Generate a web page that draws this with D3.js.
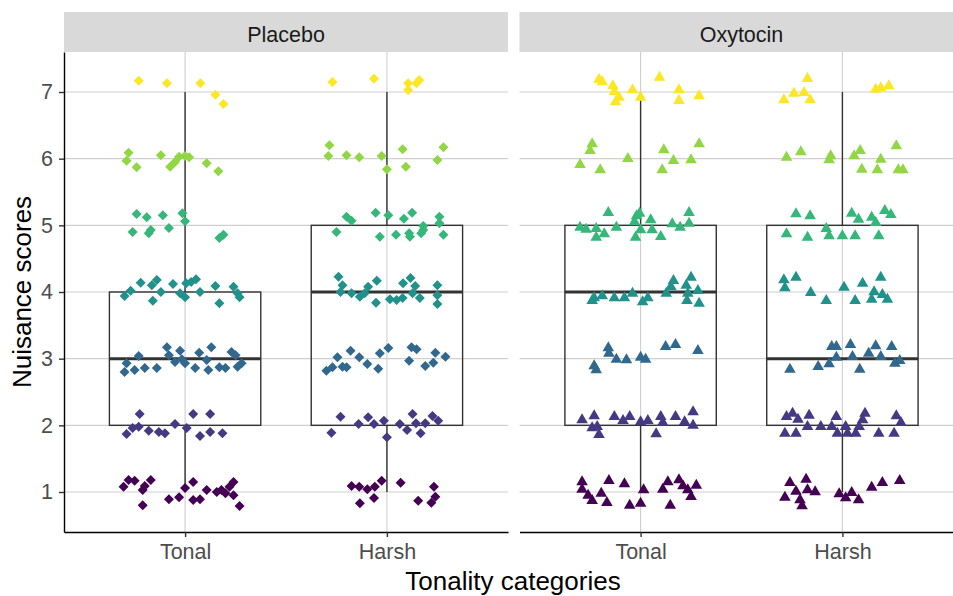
<script src="https://d3js.org/d3.v7.min.js"></script>

<div id="chart"></div>

<style>
    body { margin: 0; background: #fff; }
    text { font-family: "Liberation Sans", Arial, sans-serif; }
</style>

<script>
    const width = 953;
    const height = 596;

    const panels = ["Placebo", "Oxytocin"];
    const categories = ["Tonal", "Harsh"];
    const yTicks = [1, 2, 3, 4, 5, 6, 7];

    // box stats per panel / category: [lower whisker, q1, median, q3, upper whisker]
    const boxPlaceboTonal = [1, 2, 3, 4, 7];
    const boxPlaceboHarsh = [1, 2, 4, 5, 7];
    const boxOxytocinTonal = [1, 2, 4, 5, 7];
    const boxOxytocinHarsh = [1, 2, 3, 5, 7];

    // jittered points: [x offset (category units), score]
    const placeboTonal = [
        [-0.23, 7.17], [-0.09, 7.13], [0.076, 7.13], [0.15, 6.96], [0.19, 6.82],
        [-0.28, 6.09], [-0.29, 5.97], [-0.24, 5.87], [-0.12, 6.05], [-0.074, 5.88], [-0.05, 5.95],
        [-0.03, 6.03], [0.0, 6.04], [0.02, 6.02], [0.107, 5.93], [0.165, 5.81],
        [-0.24, 5.17], [-0.19, 5.12], [-0.11, 5.15], [-0.013, 5.18], [0.0, 5.06], [-0.26, 4.9],
        [-0.18, 4.88], [-0.17, 4.93], [-0.08, 4.96], [0.17, 4.81], [0.19, 4.86],
        [-0.3, 3.94], [-0.27, 4.02], [-0.22, 4.14], [-0.165, 4.1], [-0.14, 4.18], [-0.12, 4.0],
        [-0.16, 3.87], [-0.06, 4.12], [-0.025, 3.98], [0.0, 3.92], [0.005, 4.13], [0.03, 4.15],
        [0.054, 4.19], [0.074, 4.0], [0.15, 4.09], [0.17, 3.83], [0.24, 4.08], [0.26, 3.98], [0.27, 3.92],
        [-0.23, 3.04], [-0.29, 2.93], [-0.3, 2.8], [-0.25, 2.83], [-0.2, 2.86], [-0.14, 2.86],
        [-0.09, 3.17], [-0.08, 3.05], [-0.05, 2.95], [-0.025, 3.12], [-0.016, 2.99], [0.0, 2.93],
        [0.05, 2.86], [0.07, 3.09], [0.107, 2.98], [0.13, 3.17], [0.115, 2.83], [0.17, 2.87],
        [0.2, 2.86], [0.23, 3.1], [0.25, 3.05], [0.26, 2.88], [0.28, 2.93],
        [-0.225, 2.17], [-0.29, 1.87], [-0.26, 1.96], [-0.23, 1.98], [-0.18, 1.92], [-0.13, 1.9],
        [-0.1, 1.88], [-0.05, 2.02], [0.008, 1.96], [0.04, 2.17], [0.124, 2.17], [0.074, 1.84],
        [0.124, 1.9], [0.185, 1.88],
        [-0.305, 1.08], [-0.28, 1.18], [-0.25, 1.17], [-0.21, 1.03], [-0.2, 1.09], [-0.17, 1.18],
        [-0.21, 0.8], [-0.08, 0.89], [-0.03, 0.92], [0.0, 1.06], [0.04, 1.15], [0.04, 0.88],
        [0.074, 0.89], [0.107, 1.03], [0.157, 1.0], [0.18, 1.03], [0.2, 0.98], [0.22, 1.08],
        [0.24, 1.15], [0.24, 0.95], [0.27, 0.79]
    ];

    const placeboHarsh = [
        [-0.27, 7.15], [-0.064, 7.2], [0.105, 7.13], [0.105, 7.03], [0.147, 7.13], [0.16, 7.18],
        [-0.285, 6.2], [-0.29, 6.04], [-0.2, 6.05], [-0.137, 6.02], [-0.026, 6.04], [0.0, 5.84],
        [0.078, 6.14], [0.094, 5.88], [0.25, 5.98], [0.28, 6.17],
        [-0.2, 5.13], [-0.175, 5.07], [-0.25, 4.9], [-0.056, 5.19], [0.007, 5.15], [0.084, 5.1],
        [0.125, 5.19], [-0.035, 4.83], [0.045, 4.86], [0.11, 4.88], [0.114, 4.83], [0.17, 4.88],
        [0.18, 4.99], [0.26, 5.13], [0.26, 5.03], [0.28, 4.86], [0.18, 4.93],
        [-0.24, 4.23], [-0.22, 4.1], [-0.23, 4.0], [-0.175, 3.98], [-0.134, 3.93], [-0.11, 3.98],
        [-0.093, 4.08], [-0.05, 4.17], [-0.054, 3.84], [0.015, 3.89], [0.048, 3.88], [0.078, 3.91],
        [0.08, 4.13], [0.117, 4.21], [0.14, 4.09], [0.127, 3.98], [0.163, 3.91], [0.25, 4.1],
        [0.25, 3.95], [0.25, 3.82],
        [-0.3, 2.82], [-0.27, 2.87], [-0.245, 3.02], [-0.22, 2.88], [-0.2, 2.87], [-0.18, 3.12],
        [-0.137, 3.02], [-0.097, 2.92], [-0.043, 2.85], [-0.035, 3.08], [0.007, 3.16], [0.11, 2.97],
        [0.122, 3.17], [0.147, 3.14], [0.19, 2.89], [0.23, 2.94], [0.24, 3.09], [0.29, 3.03],
        [-0.23, 2.13], [-0.275, 1.89], [-0.14, 2.02], [-0.093, 2.12], [-0.064, 2.02], [-0.015, 2.07],
        [0.0, 1.82], [0.064, 2.02], [0.1, 1.93], [0.127, 2.17], [0.144, 2.03], [0.167, 1.88],
        [0.19, 2.03], [0.226, 2.14], [0.254, 2.07],
        [-0.175, 1.09], [-0.137, 1.08], [-0.097, 1.04], [-0.06, 1.08], [-0.026, 1.17], [-0.134, 0.83],
        [-0.064, 0.91], [0.068, 1.14], [0.155, 0.87], [0.22, 0.84], [0.24, 0.93], [0.233, 1.08]
    ];

    const oxytocinTonal = [
        [-0.206, 7.19], [-0.19, 7.15], [-0.137, 7.09], [-0.13, 7.0], [-0.107, 6.92], [-0.124, 6.85],
        [-0.04, 7.03], [0.0, 6.92], [0.094, 7.22], [0.19, 7.03], [0.19, 6.87], [0.29, 6.94],
        [-0.24, 6.22], [-0.25, 6.12], [-0.3, 5.91], [-0.2, 5.83], [-0.063, 6.0], [0.115, 6.13],
        [0.163, 5.97], [0.107, 5.83], [0.25, 5.98], [0.29, 6.22],
        [-0.16, 5.19], [-0.3, 4.97], [-0.27, 4.94], [-0.22, 4.95], [-0.22, 4.82], [-0.18, 4.87],
        [-0.12, 4.97], [-0.02, 5.14], [-0.005, 5.18], [-0.03, 5.05], [0.0, 4.93], [-0.025, 4.82],
        [0.05, 5.08], [0.057, 4.93], [0.1, 4.83], [0.157, 5.02], [0.196, 4.97], [0.24, 5.03], [0.24, 5.19],
        [-0.24, 3.87], [-0.23, 3.91], [-0.19, 3.94], [-0.13, 3.91], [-0.08, 3.91], [-0.04, 3.98],
        [0.01, 3.85], [0.036, 3.91], [0.127, 3.98], [0.15, 4.08], [0.163, 4.17], [0.226, 4.1],
        [0.25, 4.22], [0.234, 3.98], [0.23, 3.87], [0.284, 4.02], [0.29, 3.83],
        [-0.23, 2.89], [-0.22, 2.83], [-0.16, 3.16], [-0.157, 3.08], [-0.12, 2.99], [-0.07, 2.98],
        [0.0, 3.02], [0.025, 2.99], [0.124, 3.18], [0.173, 3.21], [0.284, 3.12],
        [-0.29, 2.08], [-0.23, 2.14], [-0.24, 1.96], [-0.215, 1.98], [-0.206, 1.86], [-0.13, 2.13],
        [-0.087, 2.07], [-0.054, 2.13], [0.0, 2.05], [0.036, 2.07], [0.077, 1.87], [0.1, 2.13],
        [0.11, 2.04], [0.173, 2.13], [0.218, 2.05], [0.26, 2.2], [0.26, 2.0],
        [-0.29, 1.15], [-0.29, 1.04], [-0.26, 0.95], [-0.24, 0.87], [-0.195, 0.98], [-0.167, 0.84],
        [-0.157, 1.17], [-0.08, 1.12], [-0.054, 0.8], [0.0, 0.83], [0.015, 1.03], [0.11, 1.04],
        [0.135, 1.15], [0.147, 0.8], [0.19, 1.18], [0.21, 1.09], [0.234, 1.03], [0.25, 0.93], [0.276, 1.1]
    ];

    const oxytocinHarsh = [
        [-0.173, 7.2], [-0.24, 6.98], [-0.19, 6.99], [-0.29, 6.88], [-0.16, 6.88], [0.165, 7.04],
        [0.19, 7.06], [0.23, 7.09],
        [-0.277, 6.02], [-0.206, 6.1], [-0.058, 6.04], [-0.066, 5.98], [0.058, 6.04], [0.088, 6.12],
        [0.19, 5.99], [0.173, 5.83], [0.096, 5.84], [0.267, 6.19], [0.277, 5.83], [0.3, 5.83],
        [-0.23, 5.17], [-0.16, 5.14], [-0.277, 4.87], [-0.173, 4.82], [-0.08, 4.95], [-0.066, 4.84],
        [0.0, 4.84], [0.063, 4.84], [0.046, 5.18], [0.08, 5.09], [0.145, 5.12], [0.165, 5.04],
        [0.18, 4.84], [0.21, 5.22], [0.24, 5.16],
        [-0.29, 4.18], [-0.285, 4.06], [-0.23, 4.22], [-0.157, 3.99], [-0.08, 3.87], [0.008, 4.07],
        [0.063, 3.87], [0.1, 4.13], [0.157, 4.0], [0.145, 3.89], [0.19, 4.22], [0.198, 3.96], [0.223, 3.89],
        [-0.053, 3.18], [-0.03, 3.18], [-0.03, 3.02], [-0.066, 2.92], [-0.12, 2.88], [-0.26, 2.84],
        [0.04, 3.21], [0.05, 3.03], [0.086, 2.84], [0.13, 3.08], [0.165, 3.19], [0.19, 3.03],
        [0.244, 3.18], [0.26, 2.93], [0.284, 2.97],
        [-0.277, 2.13], [-0.247, 2.18], [-0.22, 2.09], [-0.165, 2.15], [-0.173, 1.98], [-0.285, 1.88],
        [-0.23, 1.88], [-0.107, 1.98], [-0.053, 1.98], [-0.03, 2.13], [-0.025, 1.88], [0.016, 1.98],
        [0.025, 1.88], [0.066, 1.88], [0.083, 1.98], [0.112, 2.18], [0.1, 2.08], [0.18, 1.88],
        [0.256, 1.88], [0.267, 2.14], [0.29, 2.04],
        [-0.26, 1.14], [-0.285, 0.92], [-0.23, 1.01], [-0.18, 1.19], [-0.173, 1.03], [-0.135, 1.0],
        [-0.21, 0.88], [-0.2, 0.79], [-0.016, 0.97], [0.016, 0.91], [0.046, 0.99], [0.08, 0.88],
        [0.145, 1.07], [0.198, 1.14], [0.284, 1.17]
    ];

    const groups = [
        {panel: 0, cat: 1, box: boxPlaceboTonal, points: placeboTonal},
        {panel: 0, cat: 2, box: boxPlaceboHarsh, points: placeboHarsh},
        {panel: 1, cat: 1, box: boxOxytocinTonal, points: oxytocinTonal},
        {panel: 1, cat: 2, box: boxOxytocinHarsh, points: oxytocinHarsh}
    ];

    const panelLefts = [64, 519.5];
    const panelWidth = 444;
    const panelTop = 52;
    const panelBottom = 532;
    const stripTop = 12;

    const y = d3.scaleLinear().domain([0.4, 7.6]).range([panelBottom, panelTop]);
    const color = d3.scaleSequential(d3.interpolateViridis).domain([1, 7]);

    const diamond = {
        draw(context, size) {
            const r = Math.sqrt(size / 2);
            context.moveTo(0, -r);
            context.lineTo(r, 0);
            context.lineTo(0, r);
            context.lineTo(-r, 0);
            context.closePath();
        }
    };
    const shapes = [d3.symbol(diamond, 50), d3.symbol(d3.symbolTriangle, 58)];

    const svg = d3.select("#chart")
        .append("svg")
        .attr("width", width)
        .attr("height", height);

    panels.forEach((name, p) => {
        const x0 = panelLefts[p];
        const x = d3.scaleLinear().domain([0.4, 2.6]).range([x0, x0 + panelWidth]);
        const g = svg.append("g");

        // strip
        g.append("rect")
            .attr("x", x0)
            .attr("y", stripTop)
            .attr("width", panelWidth)
            .attr("height", panelTop - stripTop)
            .attr("fill", "#d9d9d9");
        g.append("text")
            .attr("x", x0 + panelWidth / 2)
            .attr("y", 41.5)
            .attr("text-anchor", "middle")
            .attr("font-size", 21.5)
            .attr("fill", "#1a1a1a")
            .text(name);

        // grid
        g.selectAll(".hgrid")
            .data(yTicks)
            .enter()
            .append("line")
            .attr("x1", x0)
            .attr("x2", x0 + panelWidth)
            .attr("y1", d => y(d))
            .attr("y2", d => y(d))
            .attr("stroke", "#cfcfcf")
            .attr("stroke-width", 1.1);
        g.selectAll(".vgrid")
            .data([1, 2])
            .enter()
            .append("line")
            .attr("x1", d => x(d))
            .attr("x2", d => x(d))
            .attr("y1", panelTop)
            .attr("y2", panelBottom)
            .attr("stroke", "#cfcfcf")
            .attr("stroke-width", 1.1);

        // boxplots
        const bw = 0.75;
        groups.filter(d => d.panel === p).forEach(d => {
            const [lo, q1, med, q3, hi] = d.box;
            const cx = x(d.cat);
            g.append("line")
                .attr("x1", cx).attr("x2", cx)
                .attr("y1", y(hi)).attr("y2", y(q3))
                .attr("stroke", "#333").attr("stroke-width", 1.4);
            g.append("line")
                .attr("x1", cx).attr("x2", cx)
                .attr("y1", y(q1)).attr("y2", y(lo))
                .attr("stroke", "#333").attr("stroke-width", 1.4);
            g.append("rect")
                .attr("x", x(d.cat - bw / 2))
                .attr("y", y(q3))
                .attr("width", x(d.cat + bw / 2) - x(d.cat - bw / 2))
                .attr("height", y(q1) - y(q3))
                .attr("fill", "none")
                .attr("stroke", "#333")
                .attr("stroke-width", 1.4);
            g.append("line")
                .attr("x1", x(d.cat - bw / 2)).attr("x2", x(d.cat + bw / 2))
                .attr("y1", y(med)).attr("y2", y(med))
                .attr("stroke", "#333").attr("stroke-width", 3);

            g.selectAll(null)
                .data(d.points)
                .enter()
                .append("path")
                .attr("d", shapes[p])
                .attr("transform", pt => `translate(${x(d.cat + pt[0])},${y(pt[1])})`)
                .attr("fill", pt => color(Math.round(pt[1])));
        });

        // x axis
        const xAxis = g.append("g")
            .attr("transform", `translate(0,${panelBottom})`)
            .call(d3.axisBottom(x).tickValues([1, 2]).tickFormat(i => categories[i - 1])
                .tickSize(5).tickSizeOuter(0).tickPadding(7));
        xAxis.select(".domain").attr("stroke", "#000").attr("stroke-width", 1.4);
        xAxis.selectAll(".tick line").attr("stroke", "#333").attr("stroke-width", 1.4);
        xAxis.selectAll(".tick text")
            .attr("font-size", 21.5)
            .attr("font-family", "Liberation Sans, Arial, sans-serif")
            .attr("fill", "#4d4d4d");
    });

    // y axis on the left panel only
    const yAxis = svg.append("g")
        .attr("transform", `translate(${panelLefts[0]},0)`)
        .call(d3.axisLeft(y).tickValues(yTicks).tickSize(5).tickSizeOuter(0).tickPadding(6));
    yAxis.select(".domain").attr("stroke", "#000").attr("stroke-width", 1.4);
    yAxis.selectAll(".tick line").attr("stroke", "#333").attr("stroke-width", 1.4);
    yAxis.selectAll(".tick text")
        .attr("font-size", 21.5)
        .attr("font-family", "Liberation Sans, Arial, sans-serif")
        .attr("fill", "#4d4d4d");

    // axis titles
    svg.append("text")
        .attr("x", 513)
        .attr("y", 590)
        .attr("text-anchor", "middle")
        .attr("font-size", 26)
        .attr("fill", "#000")
        .text("Tonality categories");

    svg.append("text")
        .attr("transform", "translate(31,292) rotate(-90)")
        .attr("text-anchor", "middle")
        .attr("font-size", 26)
        .attr("fill", "#000")
        .text("Nuisance scores");
</script>
